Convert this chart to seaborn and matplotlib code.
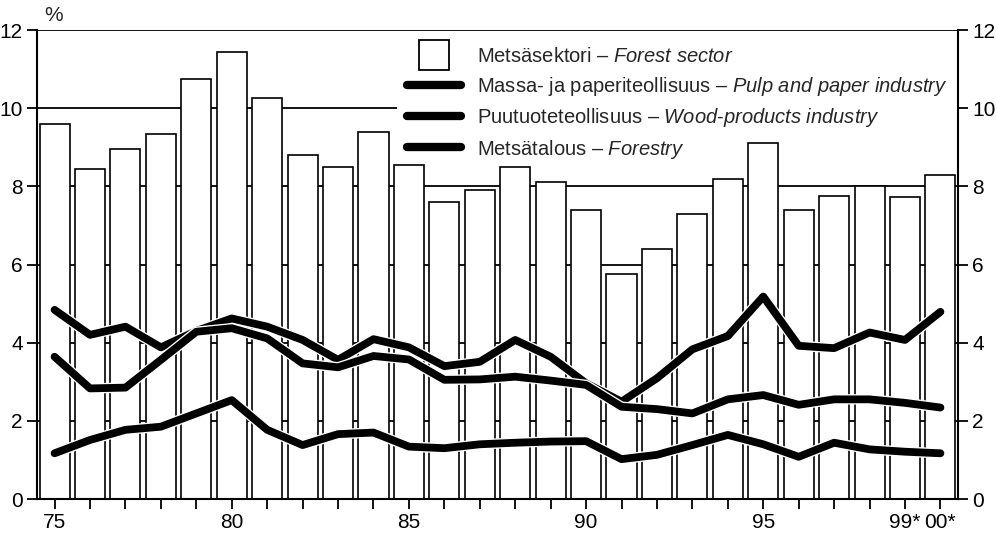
import numpy as np
import pandas as pd
import seaborn as sns
import matplotlib
matplotlib.use("Agg")
from matplotlib import pyplot as plt
from matplotlib.lines import Line2D
import matplotlib.patheffects as pe

years = list(range(1975, 2001))
year_labels = {1975: "75", 1980: "80", 1985: "85", 1990: "90", 1995: "95", 1999: "99*", 2000: "00*"}

forest_sector = [9.6, 8.45, 8.95, 9.35, 10.75, 11.45, 10.25, 8.8, 8.5, 9.4,
                 8.55, 7.6, 7.9, 8.5, 8.1, 7.4, 5.75, 6.4, 7.3, 8.2,
                 9.1, 7.4, 7.75, 8.0, 7.72, 8.3]
pulp_paper = [4.84, 4.2, 4.41, 3.88, 4.3, 4.62, 4.41, 4.07, 3.56, 4.09,
              3.88, 3.4, 3.51, 4.07, 3.64, 2.96, 2.49, 3.09, 3.83, 4.17,
              5.18, 3.92, 3.86, 4.26, 4.07, 4.79]
wood_products = [3.64, 2.83, 2.85, 3.56, 4.28, 4.37, 4.11, 3.47, 3.37, 3.66,
                 3.57, 3.05, 3.06, 3.13, 3.03, 2.92, 2.36, 2.3, 2.19, 2.55,
                 2.66, 2.41, 2.55, 2.55, 2.46, 2.34]
forestry = [1.17, 1.51, 1.77, 1.85, 2.19, 2.53, 1.77, 1.38, 1.66, 1.7,
            1.34, 1.3, 1.4, 1.44, 1.47, 1.48, 1.02, 1.13, 1.38, 1.64,
            1.4, 1.08, 1.44, 1.27, 1.21, 1.17]

labels = ["Metsäsektori – $\\mathit{Forest\\ sector}$",
          "Massa- ja paperiteollisuus – $\\mathit{Pulp\\ and\\ paper\\ industry}$",
          "Puutuoteteollisuus – $\\mathit{Wood}$-$\\mathit{products\\ industry}$",
          "Metsätalous – $\\mathit{Forestry}$"]

sns.set_style("white")
plt.rcParams['font.family'] = ['Liberation Sans', 'DejaVu Sans']
plt.rcParams['mathtext.fontset'] = 'custom'
plt.rcParams['mathtext.rm'] = 'Liberation Sans'
plt.rcParams['mathtext.it'] = 'Liberation Sans:italic'

df = pd.DataFrame({"year": years, "idx": np.arange(len(years)), "forest": forest_sector,
                   "pulp": pulp_paper, "wood": wood_products, "forestry": forestry})

fig = plt.figure(figsize=(9.96, 5.39), dpi=100)
ax = fig.add_axes([0.037, 0.0742, 0.925, 0.8701])

# grid behind the bars
for g in range(2, 13, 2):
    ax.axhline(g, color="black", lw=1.3, zorder=0)

sns.barplot(data=df, x="year", y="forest", color="white", edgecolor="black",
            linewidth=1.2, width=0.85, saturation=1, ax=ax, zorder=2)

stroke = [pe.Stroke(linewidth=7.5, foreground="white"), pe.Normal()]
for col in ["pulp", "wood", "forestry"]:
    sns.lineplot(data=df, x="idx", y=col, color="black", lw=5.6, ax=ax,
                 zorder=3, path_effects=stroke)

ax.set_xlim(-0.5, 25.5)
ax.set_ylim(0, 12)
ax.set_xticks(np.arange(len(years)))
ax.set_xticklabels([year_labels.get(y, "") for y in years])
ax.set_yticks(range(0, 13, 2))
ax.set_xlabel("")
ax.set_ylabel("")
ax.tick_params(axis="both", direction="out", length=7, width=1.3, color="black",
               labelsize=15, labelcolor="black", pad=3)
ax.tick_params(axis="y", right=True, labelright=True, left=True)
ax.tick_params(axis="x", bottom=True)
for s in ["left", "right", "bottom"]:
    ax.spines[s].set_color("black")
    ax.spines[s].set_linewidth(1.5)
ax.spines["top"].set_visible(False)

ax.text(0.008, 1.01, "%", transform=ax.transAxes, fontsize=15, ha="left", va="bottom")

handles = [Line2D([], [], marker="s", markersize=22, markerfacecolor="white",
                  markeredgecolor="black", markeredgewidth=1.3, linestyle="none")]
handles += [Line2D([], [], color="black", lw=6, solid_capstyle="round") for _ in range(3)]
leg = ax.legend(handles, labels, loc="upper right", bbox_to_anchor=(1.0, 0.985),
                fontsize=14.5, frameon=True, framealpha=1, facecolor="white",
                edgecolor="none", fancybox=False, handlelength=2.7,
                handletextpad=0.8, labelspacing=0.42, borderpad=0.5,
                borderaxespad=0.0)
# legend box sits over the grid but under the bars
leg.set_zorder(1)

fig.savefig("out.png", dpi=100)
